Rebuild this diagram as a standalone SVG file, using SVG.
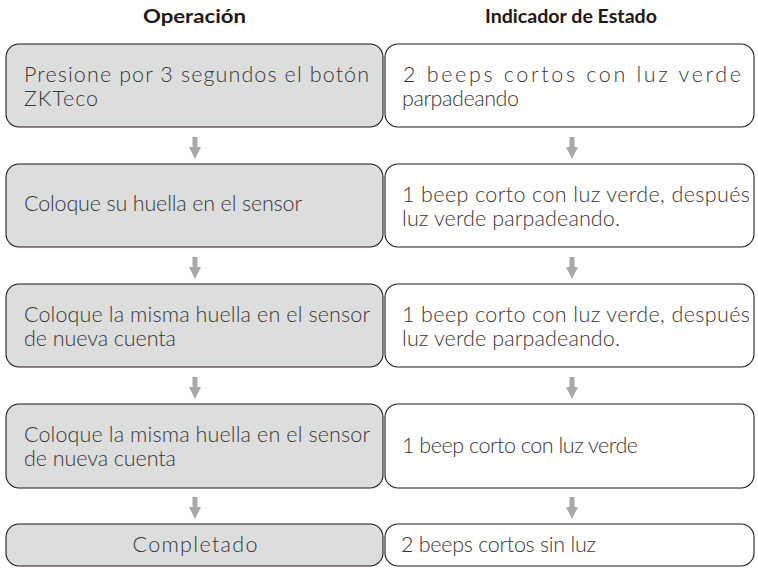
<svg xmlns="http://www.w3.org/2000/svg" width="758" height="568" viewBox="0 0 758 568">
<style>
.op{fill:#dcdddd;stroke:#231815;stroke-width:1.1}
.st{fill:#ffffff;stroke:#231815;stroke-width:1.1}
.t{font-family:Lato,"Open Sans",sans-serif;font-size:21.5px;font-weight:300;fill:#3a3636}
.h{font-family:Lato,"Open Sans",sans-serif;font-size:18px;font-weight:bold;fill:#231815;text-anchor:middle}
.ar{fill:#a8a9aa}
</style>
<defs>
<path id="arrow" d="M-2.5,0 H2.5 V10 H6 L0,22 L-6,10 H-2.5 Z"/>
</defs>
<rect width="758" height="568" fill="#ffffff"/>
<g id="headers">
<text class="h" x="194.5" y="23" textLength="103" lengthAdjust="spacingAndGlyphs">Operación</text>
<text class="h" x="571" y="23" textLength="172" lengthAdjust="spacingAndGlyphs">Indicador de Estado</text>
</g>
<g id="op1"><rect class="op" x="6" y="44" width="377" height="83" rx="13"/>
<text class="t" x="24" y="81.5" textLength="345" lengthAdjust="spacing">Presione por 3 segundos el botón</text>
<text class="t" x="24" y="105.5" textLength="74" lengthAdjust="spacing">ZKTeco</text></g>
<g id="st1"><rect class="st" x="385" y="44" width="369" height="83" rx="13"/>
<text class="t" x="403" y="81.5" textLength="338" lengthAdjust="spacing">2 beeps cortos con luz verde</text>
<text class="t" x="402" y="105.5" textLength="117" lengthAdjust="spacing">parpadeando</text></g>
<g id="op2"><rect class="op" x="6" y="164" width="377" height="83" rx="13"/>
<text class="t" x="24" y="211" textLength="278" lengthAdjust="spacing">Coloque su huella en el sensor</text></g>
<g id="st2"><rect class="st" x="385" y="164" width="369" height="83" rx="13"/>
<text class="t" x="402" y="201.5" textLength="348" lengthAdjust="spacing">1 beep corto con luz verde, después</text>
<text class="t" x="402" y="225.5" textLength="218" lengthAdjust="spacing">luz verde parpadeando.</text></g>
<g id="op3"><rect class="op" x="6" y="284" width="377" height="83" rx="13"/>
<text class="t" x="24" y="321.5" textLength="346" lengthAdjust="spacing">Coloque la misma huella en el sensor</text>
<text class="t" x="24" y="345.5" textLength="152" lengthAdjust="spacing">de nueva cuenta</text></g>
<g id="st3"><rect class="st" x="385" y="284" width="369" height="83" rx="13"/>
<text class="t" x="402" y="321.5" textLength="348" lengthAdjust="spacing">1 beep corto con luz verde, después</text>
<text class="t" x="402" y="345.5" textLength="218" lengthAdjust="spacing">luz verde parpadeando.</text></g>
<g id="op4"><rect class="op" x="6" y="404" width="377" height="84" rx="13"/>
<text class="t" x="24" y="441.5" textLength="346" lengthAdjust="spacing">Coloque la misma huella en el sensor</text>
<text class="t" x="24" y="465.5" textLength="152" lengthAdjust="spacing">de nueva cuenta</text></g>
<g id="st4"><rect class="st" x="385" y="404" width="369" height="84" rx="13"/>
<text class="t" x="402" y="453" textLength="236" lengthAdjust="spacing">1 beep corto con luz verde</text></g>
<g id="op5"><rect class="op" x="6" y="524" width="377" height="42" rx="13"/>
<text class="t" x="195" y="551.5" text-anchor="middle" textLength="125" lengthAdjust="spacing">Completado</text></g>
<g id="st5"><rect class="st" x="385" y="524" width="369" height="42" rx="13"/>
<text class="t" x="401" y="551.5" textLength="195" lengthAdjust="spacing">2 beeps cortos sin luz</text></g>
<g id="connectors">
<use href="#arrow" class="ar" x="195" y="137"/>
<use href="#arrow" class="ar" x="572" y="137"/>
<use href="#arrow" class="ar" x="195" y="257"/>
<use href="#arrow" class="ar" x="572" y="257"/>
<use href="#arrow" class="ar" x="195" y="377"/>
<use href="#arrow" class="ar" x="572" y="377"/>
<use href="#arrow" class="ar" x="195" y="497"/>
<use href="#arrow" class="ar" x="572" y="497"/>
</g>
</svg>
